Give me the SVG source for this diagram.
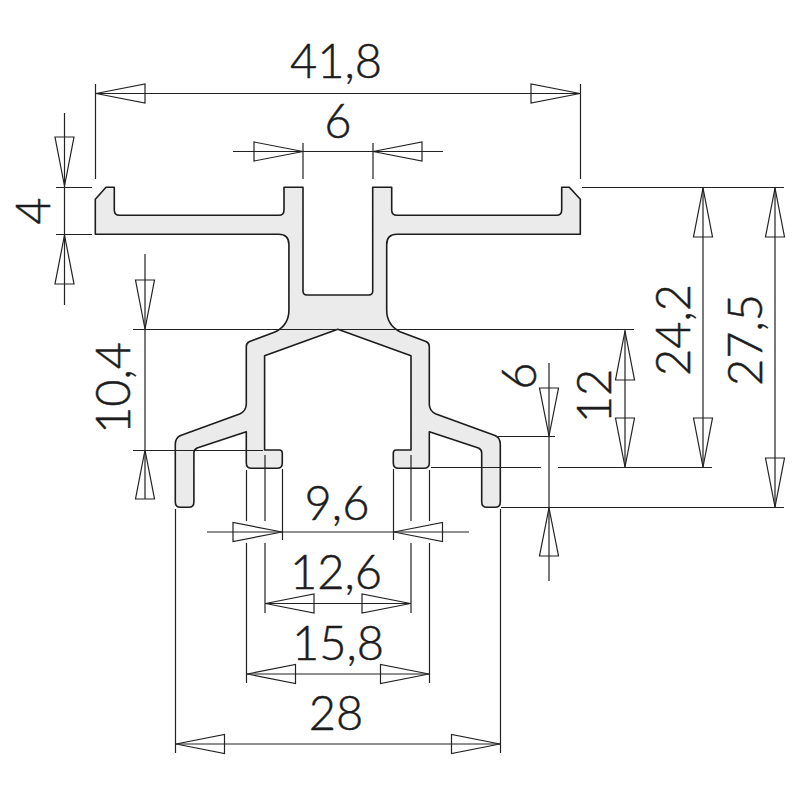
<svg xmlns="http://www.w3.org/2000/svg" width="800" height="800" viewBox="0 0 800 800">
<style>
.p{fill:#ebebeb;stroke:#1c1c1c;stroke-width:1.6;stroke-linejoin:round}
.d{fill:none;stroke:#222;stroke-width:1.2}
.a{fill:none;stroke:#222;stroke-width:1.2}
text{font-family:"Lato","Liberation Sans",sans-serif;font-weight:300;font-size:47px;fill:#1c1c1c;stroke:#1c1c1c;stroke-width:.5;text-anchor:middle}
</style>
<rect width="800" height="800" fill="#fff"/>
<g id="profile">
<path class="p" d="M95.3 199.3L106 187.3H114.3V210Q114.3 215.3 119.6 215.3H278.7Q284 215.3 284 210V187.3H303V291Q303 295 307 295H368.7Q372.7 295 372.7 291V187.3H391.7V210Q391.7 215.3 397 215.3H556.4Q561.7 215.3 561.7 210V187.3H569.3L580.3 199.3V234.3H397Q386.7 234.3 386.7 244.6V310Q386.7 325 400 331.7L426 341.5Q429.3 343 429.3 346.5V404Q429.3 411 436 414L495 435.5Q500.3 438 500.3 444V502Q500.3 507.3 495 507.3H487Q481.7 507.3 481.7 502V453Q481.7 449.5 478.5 448L429.3 431.7V463Q429.3 468.3 424 468.3H398.6Q393.3 468.3 393.3 463V453Q393.3 450 396.3 450H411V355.7L337.8 329.3L264.6 355.7V450H279.3Q282.3 450 282.3 453V463Q282.3 468.3 277 468.3H251.6Q246.3 468.3 246.3 463V431.7L197.1 448Q193.9 449.5 193.9 453V502Q193.9 507.3 188.6 507.3H180.6Q175.3 507.3 175.3 502V444Q175.3 438 180.6 435.5L239.6 414Q246.3 411 246.3 404V346.5Q246.3 343 249.6 341.5L275.6 331.7Q288.9 325 288.9 310V244.6Q288.9 234.3 278.6 234.3H95.3Z"/>
</g>
<g id="connectors">
<path class="d" d="M95.500 84V179M580.500 84V179M95.500 93.500H580.500M233 151.500H443M303 143V179M373 143V179M64.500 113V305M56 187.500H92M56 234.500H92M145 254V499M133 329.500H634M133 450.500H263M582 187.500H784M703 187V467M775 187V507M625 330V467M431 467.500H541M558 467.500H712M501 507.500H784M549 363V581M497 436.500H555M207 532H469M282.500 469V540M393.500 469V540M246.500 470V521M246.500 543V683M429.500 470V521M429.500 543V683M265 455V521M265 543V613M411 455V521M411 543V613M175.500 509V753M500.500 509V753M265 603.500H411M246.500 674H429.500M175.500 744H500.500"/>
<path class="a" d="M96 93.500L145 84V103ZM580 93.500L531 84V103ZM303 151.500L254 142V161ZM373 151.500L422 142V161ZM64.500 186L55 137H74ZM64.500 235L55 284H74ZM145 329L135.500 280H154.500ZM145 450L135.500 499H154.500ZM703 188L693.500 237H712.500ZM703 467L693.500 418H712.500ZM775 188L765.500 237H784.500ZM775 507L765.500 458H784.500ZM625 331L615.500 380H634.500ZM625 467L615.500 418H634.500ZM549 436L539.500 388H558.500ZM549 508L539.500 556H558.500ZM282 532L233 522.500V541.500ZM394 532L442.500 522.500V541.500ZM265.500 603.500L314 594V613ZM410.500 603.500L362 594V613ZM247 674L295.500 664.500V683.500ZM429 674L380.500 664.500V683.500ZM176 744L224.500 734.500V753.500ZM500 744L451.500 734.500V753.500Z"/>
</g>
<g id="labels">
<text x="336" y="78">41,8</text>
<text x="338" y="138">6</text>
<text transform="translate(50 211) rotate(-90)">4</text>
<text transform="translate(130 388) rotate(-90)">10,4</text>
<text transform="translate(690 330) rotate(-90)">24,2</text>
<text transform="translate(762 340) rotate(-90)">27,5</text>
<text transform="translate(611 396) rotate(-90)">12</text>
<text transform="translate(536 376) rotate(-90)">6</text>
<text x="337" y="520">9,6</text>
<text x="336" y="589">12,6</text>
<text x="338" y="660">15,8</text>
<text x="336" y="730">28</text>
</g>
</svg>
